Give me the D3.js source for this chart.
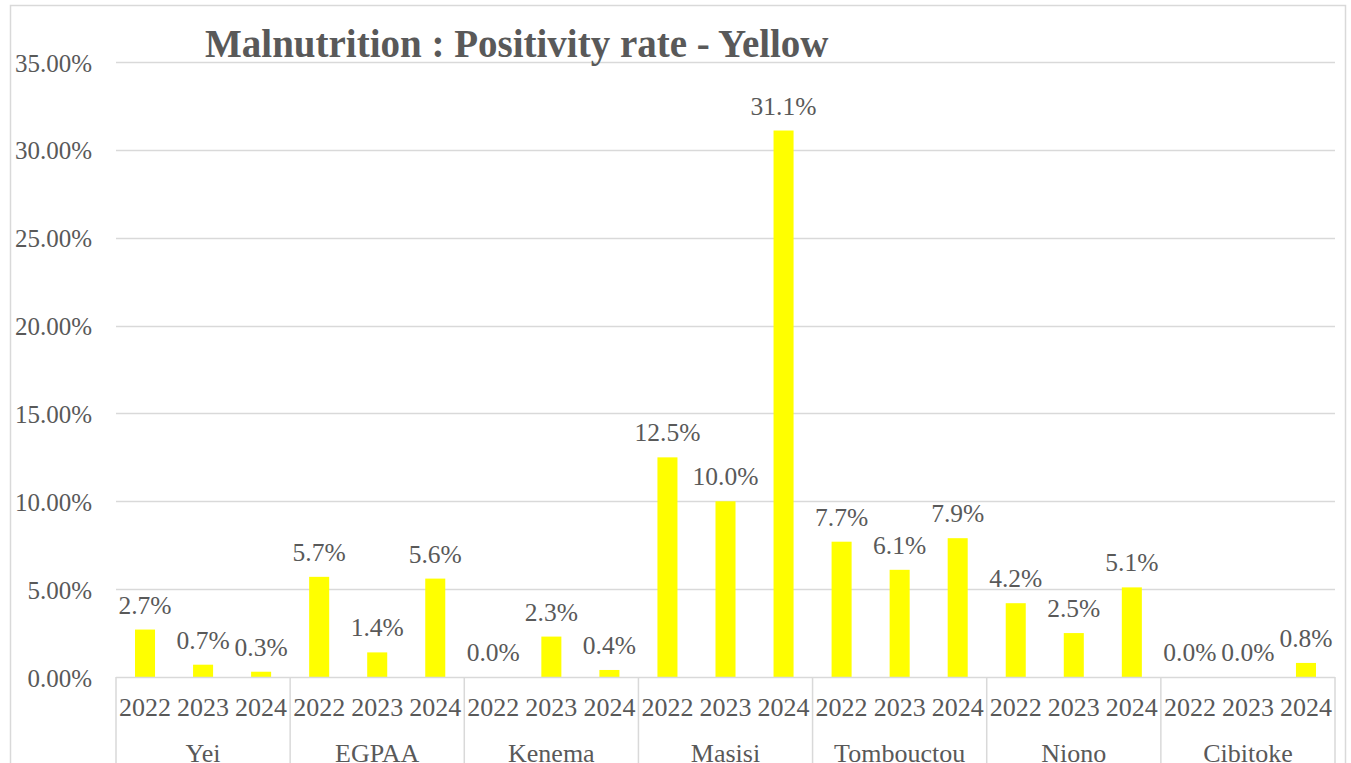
<!DOCTYPE html>
<html>
<head>
<meta charset="utf-8">
<script src="https://cdn.jsdelivr.net/npm/d3@7"></script>
<style>
  html, body { margin: 0; padding: 0; background: #fff; }
  svg { display: block; }
  text { font-family: "Liberation Serif", "DejaVu Serif", serif; fill: #595959; }
</style>
</head>
<body>
<svg id="chart" width="1351" height="763"></svg>
<script>
// Sites and reporting years
const sites = ["Yei", "EGPAA", "Kenema", "Masisi", "Tombouctou", "Niono", "Cibitoke"];
const years = ["2022", "2023", "2024"];

// Positivity rate (%) per site, one entry per year
const yei        = [2.7, 0.7, 0.3];
const egpaa      = [5.7, 1.4, 5.6];
const kenema     = [0.0, 2.3, 0.4];
const masisi     = [12.5, 10.0, 31.1];
const tombouctou = [7.7, 6.1, 7.9];
const niono      = [4.2, 2.5, 5.1];
const cibitoke   = [0.0, 0.0, 0.8];

// Y axis tick values (%)
const yTicks = [0, 5, 10, 15, 20, 25, 30, 35];

const title = "Malnutrition : Positivity rate - Yellow";

const siteValues = [yei, egpaa, kenema, masisi, tombouctou, niono, cibitoke];
const rows = [];
sites.forEach((s, i) => years.forEach((yr, j) => rows.push({ site: s, year: yr, key: s + "|" + yr, value: siteValues[i][j] })));

const svg = d3.select("#chart");
const W = 1351, H = 763;
const plotLeft = 116, plotRight = 1335, plotTop = 62, plotBottom = 677;

// Outer frame
svg.append("rect")
  .attr("x", 10.5).attr("y", 5.5)
  .attr("width", 1345 - 10).attr("height", H + 20)
  .attr("fill", "none").attr("stroke", "#d9d9d9").attr("stroke-width", 1.5);

const x = d3.scaleBand().domain(rows.map(d => d.key)).range([plotLeft, plotRight]).paddingInner(0.655).paddingOuter(0.3275);
const xGroup = d3.scaleBand().domain(sites).range([plotLeft, plotRight]);
const y = d3.scaleLinear().domain([0, 35]).range([plotBottom, plotTop]);

// Horizontal gridlines
svg.append("g")
  .selectAll("line").data(yTicks.filter(t => t > 0)).join("line")
  .attr("x1", plotLeft).attr("x2", plotRight)
  .attr("y1", d => Math.round(y(d)) + 0.5).attr("y2", d => Math.round(y(d)) + 0.5)
  .attr("stroke", "#d9d9d9").attr("stroke-width", 1.5);

// Y axis labels
const yAxis = d3.axisLeft(y).tickValues(yTicks).tickSize(0).tickPadding(0)
  .tickFormat(d => d3.format(".2f")(d) + "%");
const gy = svg.append("g").attr("transform", `translate(92,1)`).call(yAxis);
gy.select(".domain").remove();
gy.selectAll("text").style("font-size", "25px").attr("fill", "#595959")
  .style("font-family", '"Liberation Serif", serif').attr("dy", "0.32em");

// Bars
svg.append("g").selectAll("rect").data(rows).join("rect")
  .attr("x", d => x(d.key))
  .attr("width", x.bandwidth())
  .attr("y", d => y(d.value))
  .attr("height", d => y(0) - y(d.value))
  .attr("fill", "#ffff00");

// Value labels
svg.append("g").selectAll("text").data(rows).join("text")
  .attr("x", d => x(d.key) + x.bandwidth() / 2)
  .attr("y", d => y(d.value) - 16)
  .attr("text-anchor", "middle")
  .style("font-size", "25.5px")
  .text(d => d.value.toFixed(1) + "%");

// Category axis: baseline, group dividers, year and site labels
svg.append("line")
  .attr("x1", plotLeft).attr("x2", plotRight)
  .attr("y1", plotBottom + 0.5).attr("y2", plotBottom + 0.5)
  .attr("stroke", "#d9d9d9").attr("stroke-width", 1.5);

const dividers = sites.map(s => xGroup(s)).concat([plotRight]);
svg.append("g").selectAll("line").data(dividers).join("line")
  .attr("x1", d => d).attr("x2", d => d)
  .attr("y1", plotBottom).attr("y2", H)
  .attr("stroke", "#d9d9d9").attr("stroke-width", 1.5);

svg.append("g").selectAll("text").data(rows).join("text")
  .attr("x", d => x(d.key) + x.bandwidth() / 2)
  .attr("y", 716)
  .attr("text-anchor", "middle")
  .style("font-size", "26px")
  .text(d => d.year);

svg.append("g").selectAll("text").data(sites).join("text")
  .attr("x", d => xGroup(d) + xGroup.bandwidth() / 2)
  .attr("y", 762)
  .attr("text-anchor", "middle")
  .style("font-size", "26px")
  .text(d => d);

// Title
svg.append("text")
  .attr("x", 205).attr("y", 57)
  .style("font-size", "39px").style("font-weight", "bold")
  .text(title);
</script>
</body>
</html>
